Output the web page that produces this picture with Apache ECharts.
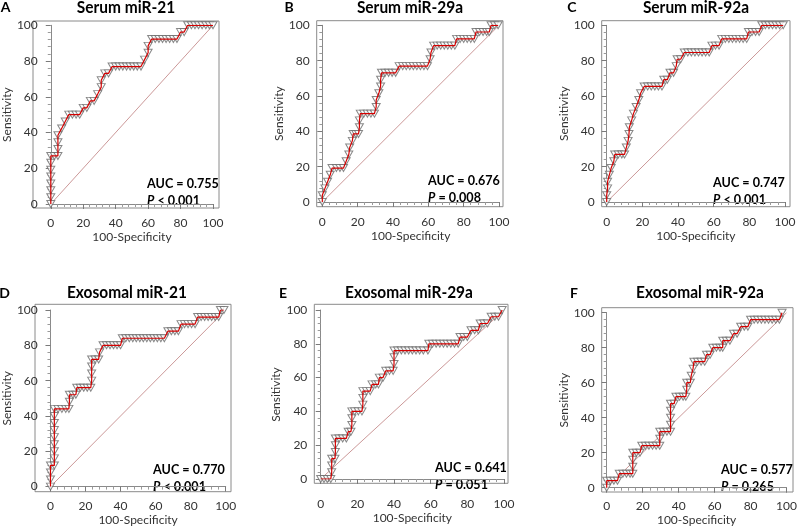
<!DOCTYPE html>
<html><head><meta charset="utf-8">
<script src="https://cdn.jsdelivr.net/npm/echarts@6/dist/echarts.min.js"></script>
<style>html,body{margin:0;padding:0;background:#fff}#c{width:800px;height:527px}</style>
</head><body><div id="c"></div>
<script>
// ---------- data ----------
const panelTitles = ['Serum miR-21','Serum miR-29a','Serum miR-92a','Exosomal miR-21','Exosomal miR-29a','Exosomal miR-92a'];
const panelLetters = ['A','B','C','D','E','F'];
const aucValues = ['0.755','0.676','0.747','0.770','0.641','0.577'];
const pRelations = ['<','=','<','<','=','='];
const pValues = ['0.001','0.008','0.001','0.001','0.051','0.265'];
const axisTicks = [0,20,40,60,80,100];
const xAxisName = '100-Specificity';
const yAxisName = 'Sensitivity';
const diagonal = [[0,0],[100,100]];

const rocA = [[0,0],[0,3.8],[0,7.7],[0,11.5],[0,15.4],[0,19.2],[0,23.1],[0,26.9],[2.2,26.9],[4.4,26.9],[4.4,30.8],[4.4,34.6],[4.4,38.5],[6.7,42.3],[8.9,46.2],[11.1,50],[13.3,50],[15.6,50],[17.8,50],[20,53.8],[22.2,53.8],[24.4,57.7],[26.7,57.7],[28.9,61.5],[31.1,65.4],[31.1,69.2],[33.3,73.1],[35.6,73.1],[37.8,76.9],[40,76.9],[42.2,76.9],[44.4,76.9],[46.7,76.9],[48.9,76.9],[51.1,76.9],[53.3,76.9],[55.6,76.9],[57.8,80.8],[60,84.6],[60,88.5],[62.2,92.3],[64.4,92.3],[66.7,92.3],[68.9,92.3],[71.1,92.3],[73.3,92.3],[75.6,92.3],[77.8,92.3],[80,96.2],[82.2,96.2],[84.4,100],[86.7,100],[88.9,100],[91.1,100],[93.3,100],[95.6,100],[97.8,100],[100,100]];
const rocB = [[0,0],[0,3.8],[1.5,7.7],[3,11.5],[4.5,15.4],[5.5,19.2],[8,19.2],[10,19.2],[12,19.2],[13.5,23.1],[15,26.9],[15.5,30.8],[17,34.6],[17.5,38.5],[19,38.5],[20.5,38.5],[21,42.3],[21,46.2],[21.5,50],[23.5,50],[25.5,50],[27.5,50],[29.5,50],[30.5,53.8],[30.5,57.7],[32,61.5],[33,65.4],[33,69.2],[33.5,73.1],[35.5,73.1],[37.5,73.1],[39.5,73.1],[41.5,73.1],[43.5,76.9],[45.5,76.9],[47.5,76.9],[49.5,76.9],[51.5,76.9],[53.5,76.9],[55.5,76.9],[57.5,76.9],[59.5,76.9],[61,80.8],[61.5,84.6],[63,88.5],[65,88.5],[67,88.5],[69,88.5],[71,88.5],[73,88.5],[75,88.5],[76,92.3],[78,92.3],[80,92.3],[82,92.3],[84,92.3],[86,92.3],[87,96.2],[89,96.2],[91,96.2],[93,96.2],[94.5,96.2],[95.5,100],[97.5,100],[99.5,100]];
const rocC = [[0,0],[0,3.8],[0.5,7.7],[0.5,11.5],[1.5,15.4],[2.5,19.2],[4,23.1],[4.5,26.9],[6.5,26.9],[8.5,26.9],[10,26.9],[11,30.8],[12,34.6],[12.5,38.5],[12.7,42.3],[14,46.2],[15,50],[16.5,53.8],[18,57.7],[19,61.5],[21,65.4],[23,65.4],[25,65.4],[27,65.4],[29,65.4],[31,65.4],[32,69.2],[34,69.2],[35.5,73.1],[37.5,73.1],[39,76.9],[39.5,80.8],[41.5,80.8],[43.5,84.6],[45.5,84.6],[47.5,84.6],[49.5,84.6],[51.5,84.6],[53.5,84.6],[55.5,84.6],[57.5,84.6],[59,88.5],[61,88.5],[63,88.5],[64.5,92.3],[66.5,92.3],[68.5,92.3],[70.5,92.3],[72.5,92.3],[74.5,92.3],[76.5,92.3],[78.5,92.3],[79.5,96.2],[81.5,96.2],[83.5,96.2],[85.5,96.2],[87,100],[89,100],[91,100],[93,100],[95,100],[97,100],[99,100]];
const rocD = [[0,0],[0,4],[0,8],[0,12],[2.2,12],[2.2,16],[2.2,20],[2.2,24],[2.2,28],[2.2,32],[2.2,36],[2.2,40],[2.2,44],[4.3,44],[6.5,44],[8.7,44],[10.5,44],[10.8,48],[10.8,52],[12.8,52],[14.5,52],[15,56],[17,56],[19,56],[21,56],[23,56],[23.5,60],[23.5,64],[23.5,68],[23.5,72],[25.5,72],[27.5,72],[28,76],[30,80],[32,80],[34,80],[36,80],[38,80],[40,80],[41,84],[43,84],[45,84],[47,84],[49,84],[51,84],[53,84],[55,84],[57,84],[59,84],[61,84],[63,84],[65,84],[67,88],[69,88],[71,88],[73,88],[74.5,92],[76.5,92],[78.5,92],[80.5,92],[82.5,92],[84,96],[86,96],[88,96],[90,96],[92,96],[94,96],[96,96],[97,100],[99,100]];
const rocE = [[0,0],[1.8,0],[3.6,0],[5.5,0],[6,4],[6,8],[6,12],[7.8,12],[8,16],[8,20],[8,24],[10,24],[12,24],[14,24],[15,28],[16.5,28],[17,32],[17,36],[17,40],[18.5,40],[20.5,40],[22.5,40],[23,44],[23,48],[23,52],[25,52],[27,52],[28,56],[30,56],[31.5,56],[32,60],[34,60],[35.5,64],[37.5,64],[39.5,64],[40,68],[40,72],[40,76],[42,76],[44,76],[46,76],[48,76],[50,76],[52,76],[54,76],[56,76],[58.5,76],[59,80],[61,80],[63,80],[65,80],[67,80],[69,80],[71,80],[73,80],[75,80],[76,84],[78,84],[80,84],[82,88],[84,88],[86,88],[87,92],[89,92],[91,92],[93,96],[95,96],[97,96],[99,100]];
const rocF = [[0,0],[0,4],[2,4],[4,4],[6,4],[7,8],[9,8],[11,8],[13,8],[14.5,8],[14.5,12],[14.5,16],[14.5,20],[16.5,20],[18.5,20],[19.5,24],[21.5,24],[23.5,24],[25.5,24],[27.5,24],[29.5,24],[29.5,28],[29.5,32],[31.5,32],[33.5,32],[35.5,32],[35.5,36],[35.5,40],[35.5,44],[35.5,48],[37.5,48],[38.5,52],[40.5,52],[42.5,52],[44,52],[44.5,56],[44.5,60],[46.5,60],[47,64],[48,68],[48.5,72],[50.5,72],[52.5,72],[54.5,72],[55.5,76],[57.5,76],[59,80],[61,80],[63,80],[64.5,80],[64.5,84],[66.5,84],[68.5,84],[70.5,88],[72.5,88],[74.5,92],[76.5,92],[78.5,92],[80,96],[82,96],[84,96],[86,96],[88,96],[90,96],[92,96],[94,96],[96,96],[97.5,100]];
const rocCurves = [rocA, rocB, rocC, rocD, rocE, rocF];

// ---------- layout (pixel geometry, styling only) ----------
const layout = [
  {box:[33,21,219,208],   x0:39,    x100:213,   y100:25.3, y0:204,   title:[126,8],   letter:[5.5,7],  auc:[147,183], xm:9},
  {box:[316.7,20.7,503,206.7], x0:322.3, x100:499, y100:25.3, y0:202, title:[410,8], letter:[289,7], auc:[428,180], xm:9},
  {box:[601.7,20.7,790,206.7], x0:606.7, x100:785, y100:25.3, y0:202, title:[696,8], letter:[572,7], auc:[713,182], xm:9},
  {box:[35,304.3,231,491.7], x0:40.7, x100:225.7, y100:310, y0:487.3, title:[127,293], letter:[4.5,293], auc:[153,469], xm:9},
  {box:[314.3,304.3,508,483.3], x0:320.7, x100:504, y100:310, y0:479, title:[409,293], letter:[283,293], auc:[435,467], xm:15},
  {box:[601.7,307.7,793,492], x0:606.7, x100:788, y100:312.7, y0:488.7, title:[700,293], letter:[574,293], auc:[721,469], xm:9}
];

const FONT = 'Lato, "Open Sans", sans-serif';
const grids = [], xAxes = [], yAxes = [], series = [], graphics = [];
layout.forEach((L, i) => {
  grids.push({left:L.x0, top:L.y100, width:L.x100-L.x0, height:L.y0-L.y100, show:false});
  const common = {
    gridIndex:i, type:'value', min:axisTicks[0], max:axisTicks[axisTicks.length-1], interval:axisTicks[1]-axisTicks[0],
    splitLine:{show:false},
    axisLine:{show:true, lineStyle:{color:'#8a8a8a', width:1}},
    axisTick:{show:true, length:5, lineStyle:{color:'#7a7a7a'}},
    minorTick:{show:true, splitNumber:5, length:3, lineStyle:{color:'#9a9a9a'}},
    axisLabel:{fontFamily:FONT, fontSize:12, color:'#333', margin:7},
    nameLocation:'middle',
    nameTextStyle:{fontFamily:FONT, fontSize:12, color:'#333'}
  };
  xAxes.push(Object.assign({}, common, {offset:L.box[3]-L.y0, name:xAxisName, nameGap:L.xm+14,
    axisLabel:Object.assign({}, common.axisLabel, {margin:L.xm})}));
  yAxes.push(Object.assign({}, common, {offset:L.x0-L.box[0], name:yAxisName, nameGap:22}));
  series.push({type:'line', xAxisIndex:i, yAxisIndex:i, data:diagonal, showSymbol:false, silent:true,
    lineStyle:{color:'#c58c8c', width:0.9}, z:1, animation:false});
  series.push({type:'scatter', xAxisIndex:i, yAxisIndex:i, data:rocCurves[i], symbol:'triangle', symbolRotate:180,
    symbolSize:[8,7], itemStyle:{color:'#ffffff', borderColor:'#6a6a6a', borderWidth:1}, z:2, silent:true, animation:false});
  series.push({type:'line', xAxisIndex:i, yAxisIndex:i, data:rocCurves[i], showSymbol:false, silent:true,
    lineStyle:{color:'#d40000', width:1.2}, z:3, animation:false});
  graphics.push({type:'rect', silent:true, z:0, shape:{x:L.box[0], y:L.box[1], width:L.box[2]-L.box[0], height:L.box[3]-L.box[1]},
    style:{fill:'none', stroke:'#8a8a8a', lineWidth:1}});
  graphics.push({type:'text', silent:true, x:L.title[0], y:L.title[1], scaleX:0.91,
    style:{text:panelTitles[i], font:'bold 17px '+FONT, fill:'#000', align:'center', verticalAlign:'middle'}});
  graphics.push({type:'text', silent:true, x:L.letter[0], y:L.letter[1],
    style:{text:panelLetters[i], font:'bold 14px '+FONT, fill:'#000', align:'center', verticalAlign:'middle'}});
  graphics.push({type:'text', silent:true, x:L.auc[0], y:L.auc[1], scaleX:0.9,
    style:{text:'AUC = '+aucValues[i], font:'bold 14px '+FONT, fill:'#000', align:'left', verticalAlign:'middle'}});
  graphics.push({type:'text', silent:true, x:L.auc[0], y:L.auc[1]+17.5, scaleX:0.9,
    style:{text:'{p|P} '+pRelations[i]+' '+pValues[i], font:'bold 14px '+FONT, fill:'#000', align:'left', verticalAlign:'middle',
      rich:{p:{fontStyle:'italic', fontWeight:'bold', fontSize:14, fontFamily:FONT, fill:'#000'}}}});
});

const chart = echarts.init(document.getElementById('c'), null, {renderer:'canvas'});
chart.setOption({animation:false, backgroundColor:'#fff', grid:grids, xAxis:xAxes, yAxis:yAxes, series:series, graphic:graphics});
</script>
</body></html>
